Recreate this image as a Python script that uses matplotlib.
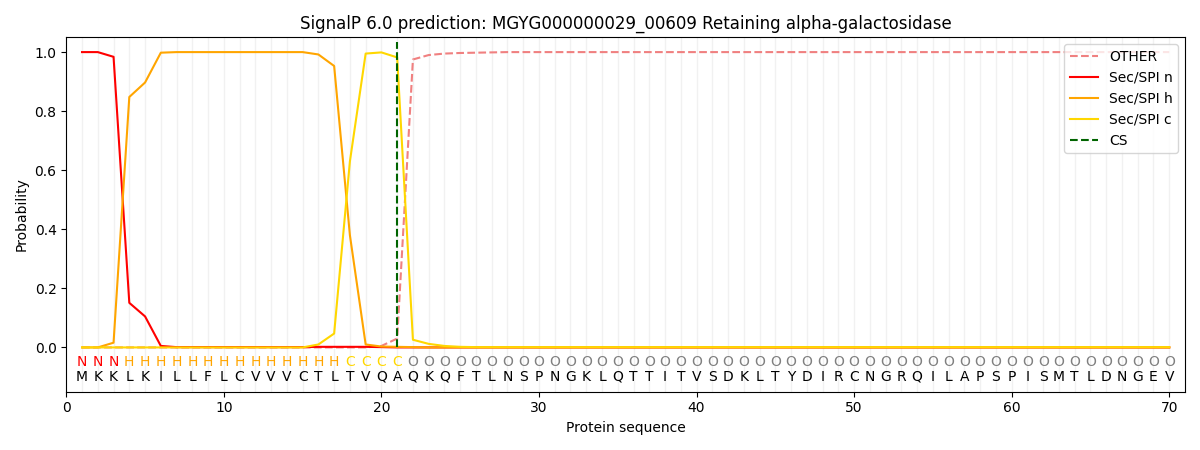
import matplotlib
matplotlib.use("Agg")
import matplotlib.pyplot as plt
import numpy as np

sequence = list("MKKLKILLFLCVVVCTLTVQAQKQFTLNSPNGKLQTTITVSDKLTYDIRCNGRQILAPSPISMTLDNGEV")
labels = list("NNN" + "H" * 14 + "CCCC" + "O" * 49)

positions = list(range(1, 71))

sp_n = [1.0, 1.0, 0.984, 0.151, 0.105, 0.005, 0.001, 0.001, 0.001, 0.001,
        0.001, 0.001, 0.001, 0.001, 0.001, 0.002, 0.002, 0.002, 0.002, 0.001] + [0.0] * 50
sp_h = [0.0, 0.0, 0.016, 0.848, 0.897, 0.998, 1.0, 1.0, 1.0, 1.0,
        1.0, 1.0, 1.0, 1.0, 1.0, 0.992, 0.953, 0.38, 0.01, 0.003,
        0.002, 0.001] + [0.0] * 48
sp_c = [0.0] * 15 + [0.01, 0.047, 0.63, 0.995, 0.999, 0.982, 0.026, 0.012, 0.005, 0.002] + [0.001] * 45
other = [0.0] * 19 + [0.005, 0.03, 0.975, 0.99, 0.995, 0.997, 0.998, 0.999] + [1.0] * 43
cs_pos = 21

label_colors = {"N": "red", "H": "orange", "C": "gold", "O": "gray"}

fig, ax = plt.subplots(figsize=(12, 4.5), dpi=100)

for p in positions:
    ax.axvline(p, color="#e8e8e8", lw=1, alpha=0.6, zorder=0)

ax.plot(positions, other, color="lightcoral", ls="--", label="OTHER")
ax.plot(positions, sp_n, color="red", label="Sec/SPI n")
ax.plot(positions, sp_h, color="orange", label="Sec/SPI h")
ax.plot(positions, sp_c, color="gold", label="Sec/SPI c")
ax.plot([cs_pos, cs_pos], [0, 1.035], color="darkgreen", ls="--", label="CS")

for p, aa, lab in zip(positions, sequence, labels):
    ax.text(p, -0.05, lab, color=label_colors[lab], ha="center", va="center", fontsize=10)
    ax.text(p, -0.10, aa, color="black", ha="center", va="center", fontsize=10)

ax.set_xlim(0, 71)
ax.set_ylim(-0.15, 1.05)
ax.set_xlabel("Protein sequence")
ax.set_ylabel("Probability")
ax.set_title("SignalP 6.0 prediction: MGYG000000029_00609 Retaining alpha-galactosidase")
ax.legend(loc="upper right")
fig.tight_layout()
fig.savefig("out.png")
